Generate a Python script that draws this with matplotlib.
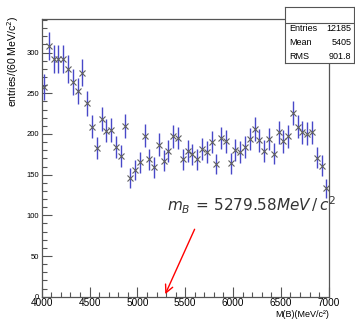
import numpy as np
import matplotlib
matplotlib.use("Agg")
import matplotlib.pyplot as plt

plt.rcParams['font.family'] = ['Liberation Sans', 'DejaVu Sans']

# histogram of M(B), 60 bins from 4000 to 7000 MeV/c^2
x_lo, x_hi, n_bins = 4000, 7000, 60
counts = [258, 308, 292, 292, 292, 280, 264, 253, 275, 238,
          209, 183, 218, 204, 205, 184, 173, 210, 146, 156,
          165, 198, 169, 159, 187, 167, 179, 197, 195, 169,
          179, 175, 169, 181, 178, 190, 163, 195, 191, 164,
          180, 178, 184, 194, 206, 192, 179, 194, 176, 202,
          191, 197, 226, 209, 202, 200, 202, 171, 161, 133]
stat_names = ['Entries', 'Mean', 'RMS']
stat_values = ['12185', '5405', '901.8']
m_B = 5279.58
arrow_tail = (5610, 86)

counts = np.array(counts, dtype=float)
edges = np.linspace(x_lo, x_hi, n_bins + 1)
centers = 0.5 * (edges[:-1] + edges[1:])
errors = np.sqrt(counts)  # poisson errors

fig = plt.figure(figsize=(3.55, 3.2), dpi=100)
ax = fig.add_axes([0.1175, 0.0728, 0.8085, 0.867])

ax.errorbar(centers, counts, yerr=errors, fmt='none', ecolor='#4848c8',
            elinewidth=1.0, capsize=0)
ax.plot(centers, counts, 'x', color='#606060', markersize=4.2, mew=0.8)

ax.set_xlim(x_lo, x_hi)
ax.set_ylim(0, 341)
ax.set_xticks(np.arange(4000, 7001, 500))
ax.set_xticks(np.arange(4000, 7001, 100), minor=True)
ax.set_yticks(np.arange(0, 301, 50))
ax.set_yticks(np.arange(0, 341, 10), minor=True)
ax.tick_params(which='both', direction='in', color='#555555', width=0.8,
               top=False, right=False)
ax.tick_params(which='major', length=7)
ax.tick_params(which='minor', length=3.5)
ax.tick_params(axis='x', labelsize=7.2, pad=1)
ax.tick_params(axis='y', labelsize=5.5, pad=2)
for sp in ax.spines.values():
    sp.set_color('#555555')
    sp.set_linewidth(0.9)

ax.set_ylabel('entries/(60 MeV/c$^2$)', fontsize=7.5, loc='top')
ax.yaxis.set_label_coords(-0.072, 1.012)
ax.set_xlabel('M(B)(MeV/c²)', fontsize=6.5, loc='right')
ax.xaxis.label.set_va('bottom')
ax.xaxis.set_label_coords(1.0, -0.0815)

ax.text(5305, 112, r'$m_B\,=\,5279.58MeV\,/\,c^2$', fontsize=11,
        color='#333333', va='center', ha='left')
ax.annotate('', xy=(m_B, 0), xytext=arrow_tail,
            arrowprops=dict(arrowstyle='->', color='red', lw=1.0,
                            mutation_scale=14))

# stats box
sb = fig.add_axes([0.803, 0.803, 0.195, 0.175])
sb.set_xticks([])
sb.set_yticks([])
sb.set_xlim(0, 1)
sb.set_ylim(0, 1)
for sp in sb.spines.values():
    sp.set_color('#555555')
    sp.set_linewidth(0.8)
sb.axhline(0.71, color='#555555', lw=0.8)
row_y = [0.61, 0.36, 0.125]
for name, val, yy in zip(stat_names, stat_values, row_y):
    sb.text(0.06, yy, name, fontsize=6.5, va='center', ha='left')
    sb.text(0.96, yy, val, fontsize=6.5, va='center', ha='right')

fig.savefig('out.png', dpi=100)
